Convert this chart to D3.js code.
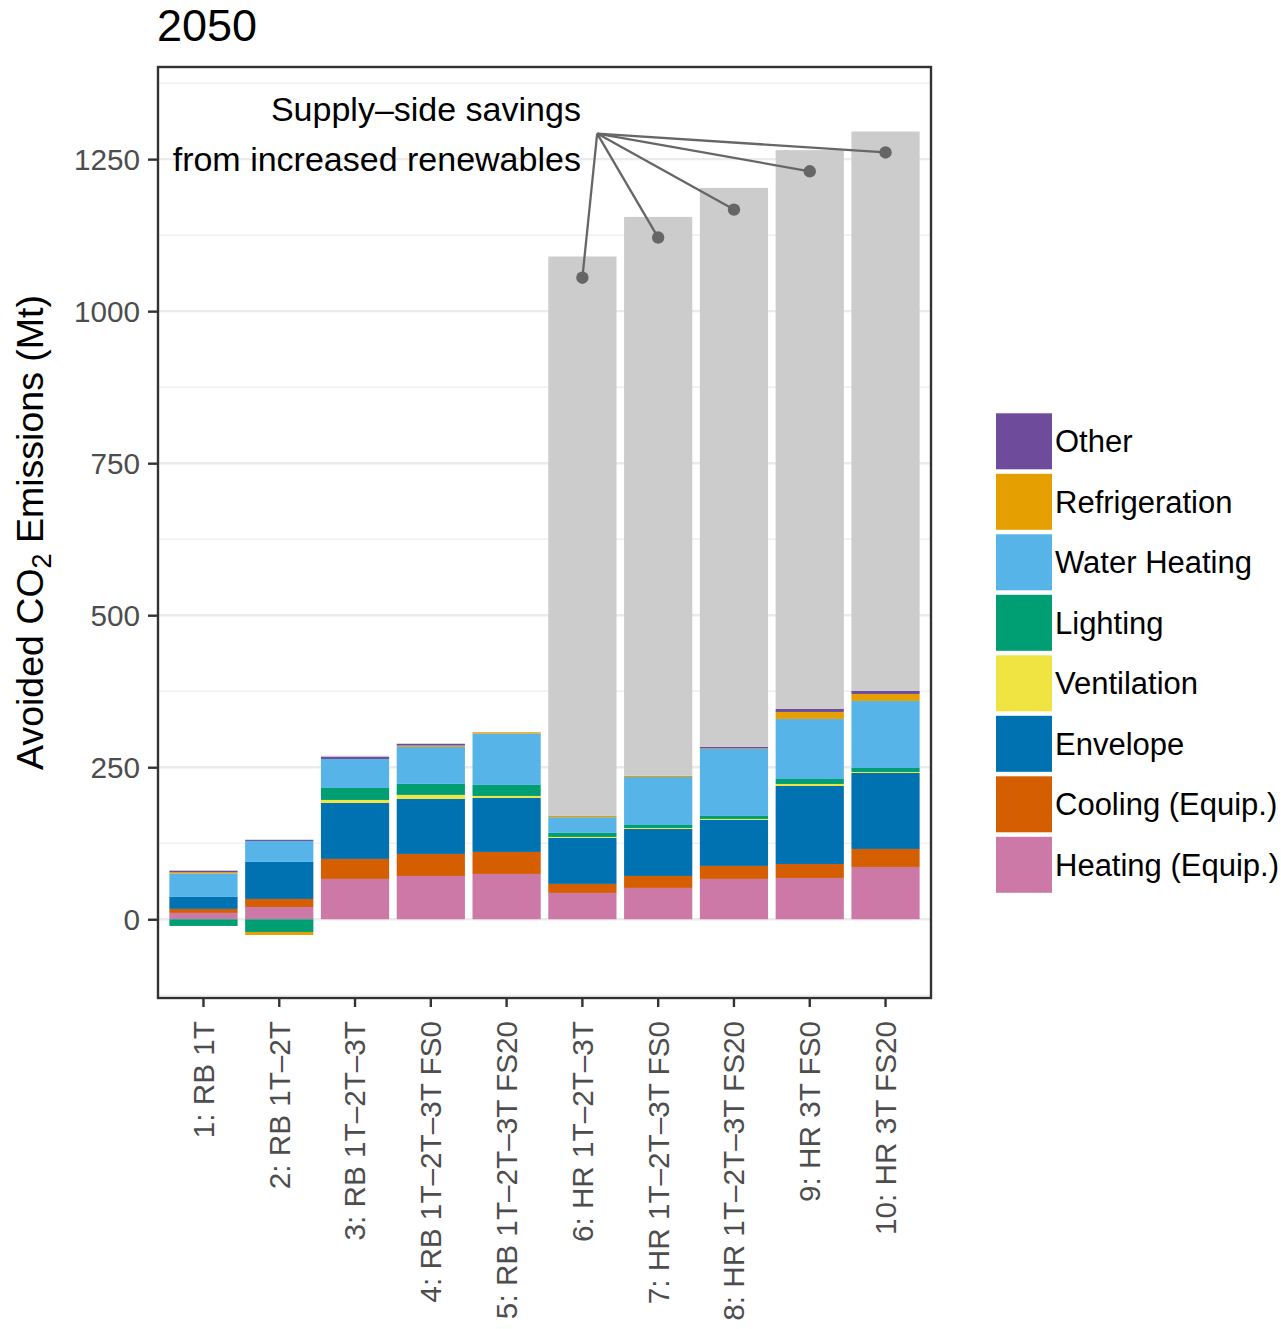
<!DOCTYPE html>
<html><head><meta charset="utf-8">
<script src="https://cdn.jsdelivr.net/npm/d3@7"></script>
<style>
html,body{margin:0;padding:0;background:#fff;}
svg{display:block;font-family:"Liberation Sans",Arial,Helvetica,sans-serif;}
</style></head>
<body><svg id="chart" width="1281" height="1329"></svg>
<script>
// ---------------- data ----------------
const categories = ["1: RB 1T", "2: RB 1T\u20132T", "3: RB 1T\u20132T\u20133T", "4: RB 1T\u20132T\u20133T FS0",
  "5: RB 1T\u20132T\u20133T FS20", "6: HR 1T\u20132T\u20133T", "7: HR 1T\u20132T\u20133T FS0",
  "8: HR 1T\u20132T\u20133T FS20", "9: HR 3T FS0", "10: HR 3T FS20"];

const heating       = [10.4, 20.2, 66.3, 71.2, 74.5, 43.3, 51.5, 66.3, 67.9, 86.0];
const cooling       = [6.6, 13.2, 32.9, 36.2, 36.2, 14.8, 19.7, 21.4, 23.0, 29.6];
const envelope      = [19.7, 60.9, 92.1, 90.5, 88.8, 75.7, 77.3, 75.7, 128.3, 125.0];
const ventilation   = [0, 0, 4.9, 6.6, 3.3, 1.6, 1.6, 1.6, 3.3, 1.6];
const lighting      = [-11.0, -20.9, 19.7, 18.1, 18.1, 6.6, 4.9, 4.9, 8.2, 6.6];
const waterHeating  = [38.3, 34.5, 47.7, 60.9, 84.4, 25.8, 78.9, 110.2, 98.7, 110.2];
const refrigeration = [2.3, -4.9, 0, 2.1, 2.3, 2.1, 2.1, 0.8, 11.5, 11.5];
const other         = [2.6, 1.6, 3.8, 2.8, 0, 0, 0, 2.8, 4.9, 4.9];
const supplySide    = [1, 1, 1.6, 1, 0.5, 920, 919, 919, 919, 920];

const seriesNames  = ["Heating (Equip.)", "Cooling (Equip.)", "Envelope", "Ventilation", "Lighting",
  "Water Heating", "Refrigeration", "Other", "Supply"];
const seriesValues = [heating, cooling, envelope, ventilation, lighting, waterHeating, refrigeration, other, supplySide];
const seriesColors = ["#CC79A7", "#D55E00", "#0072B2", "#F0E442", "#009E73", "#56B4E9", "#E69F00", "#6E4C9B", "#CCCCCC"];
const legendNames  = ["Other", "Refrigeration", "Water Heating", "Lighting", "Ventilation", "Envelope", "Cooling (Equip.)", "Heating (Equip.)"];

const majorTicks = [0, 250, 500, 750, 1000, 1250];
const minorTicks = [-125, 125, 375, 625, 875, 1125, 1375];

// annotation
const annoText = ["Supply\u2013side savings", "from increased renewables"];
const annoTextPos = 6;                 // bar position where text is right-aligned
const annoTextValues = [1312, 1231];   // baselines of the two lines
const annoAnchor = {pos: 6.195, value: 1292};
const annoBars = [6, 7, 8, 9, 10];
const annoValues = [1055, 1121, 1167, 1230, 1261];

// ---------------- chart ----------------
const svg = d3.select("#chart");
const L = 158, R = 931, T = 67, B = 998;

const x = d3.scaleBand().domain(categories).range([L, R]).paddingInner(0.1).paddingOuter(0.15);
const y = d3.scaleLinear().domain([-129.5, 1401.5]).range([B, T]);
const posX = p => x(categories[0]) + x.bandwidth() / 2 + (p - 1) * x.step();

// title
svg.append("text").attr("x", 157).attr("y", 41).attr("font-size", 45).attr("fill", "#000").text("2050");

// gridlines
const grid = svg.append("g");
grid.selectAll("line.minor").data(minorTicks).join("line")
  .attr("x1", L).attr("x2", R).attr("y1", d => y(d)).attr("y2", d => y(d))
  .attr("stroke", "#ebebeb").attr("stroke-width", 1.2);
grid.selectAll("line.major").data(majorTicks).join("line")
  .attr("x1", L).attr("x2", R).attr("y1", d => y(d)).attr("y2", d => y(d))
  .attr("stroke", "#ebebeb").attr("stroke-width", 2.4);

// stacked bars
const rows = categories.map((c, i) => {
  const r = {cat: c};
  seriesNames.forEach((s, k) => r[s] = seriesValues[k][i]);
  return r;
});
const stack = d3.stack().keys(seriesNames).offset(d3.stackOffsetDiverging)(rows);
const colorOf = d3.scaleOrdinal().domain(seriesNames).range(seriesColors);

svg.append("g").selectAll("g").data(stack).join("g")
  .attr("fill", d => colorOf(d.key))
  .selectAll("rect").data(d => d).join("rect")
  .attr("x", d => x(d.data.cat))
  .attr("width", x.bandwidth())
  .attr("y", d => y(Math.max(d[0], d[1])))
  .attr("height", d => Math.abs(y(d[0]) - y(d[1])));

// annotation
const ann = svg.append("g");
annoBars.forEach((b, i) => {
  ann.append("line")
    .attr("x1", posX(annoAnchor.pos)).attr("y1", y(annoAnchor.value))
    .attr("x2", posX(b)).attr("y2", y(annoValues[i]))
    .attr("stroke", "#666").attr("stroke-width", 2.3);
  ann.append("circle").attr("cx", posX(b)).attr("cy", y(annoValues[i])).attr("r", 6.2).attr("fill", "#666");
});
annoText.forEach((t, i) => {
  ann.append("text").attr("x", posX(annoTextPos) - 1.5).attr("y", y(annoTextValues[i]))
    .attr("text-anchor", "end").attr("font-size", 34).attr("fill", "#000").text(t);
});

// panel border
svg.append("rect").attr("x", L).attr("y", T).attr("width", R - L).attr("height", B - T)
  .attr("fill", "none").attr("stroke", "#333").attr("stroke-width", 2.4);

// y axis
const yAxis = svg.append("g").attr("transform", `translate(${L},0)`)
  .call(d3.axisLeft(y).tickValues(majorTicks).tickFormat(d3.format("d")).tickSize(10).tickPadding(8));
yAxis.select(".domain").remove();
yAxis.selectAll("line").attr("stroke", "#333").attr("stroke-width", 2.4);
yAxis.selectAll("text").attr("font-size", 29.7).attr("fill", "#4d4d4d")
  .attr("font-family", "Liberation Sans, Arial, sans-serif").attr("dy", "0.35em");

// x axis
const xAxis = svg.append("g").attr("transform", `translate(0,${B})`)
  .call(d3.axisBottom(x).tickSize(9));
xAxis.select(".domain").remove();
xAxis.selectAll("line").attr("stroke", "#333").attr("stroke-width", 2.4);
xAxis.selectAll("text")
  .attr("transform", "rotate(-90)")
  .attr("text-anchor", "end")
  .attr("x", -23).attr("y", 0).attr("dy", "0.35em")
  .attr("font-size", 29.7).attr("fill", "#4d4d4d")
  .attr("font-family", "Liberation Sans, Arial, sans-serif");

// y title
const yt = svg.append("text").attr("transform", `translate(43,${(T + B) / 2}) rotate(-90)`)
  .attr("text-anchor", "middle").attr("font-size", 37.5).attr("fill", "#000");
yt.append("tspan").text("Avoided CO");
yt.append("tspan").attr("font-size", 27).attr("dy", 8).text("2");
yt.append("tspan").attr("dy", -8).text(" Emissions (Mt)");

// legend
const leg = svg.append("g");
legendNames.forEach((n, i) => {
  const y0 = 413.3 + i * 60.5;
  leg.append("rect").attr("x", 996).attr("y", y0).attr("width", 56).attr("height", 56).attr("fill", colorOf(n));
  leg.append("text").attr("x", 1055).attr("y", y0 + 28).attr("dy", "0.35em")
    .attr("font-size", 31).attr("fill", "#000").text(n);
});
</script></body></html>
